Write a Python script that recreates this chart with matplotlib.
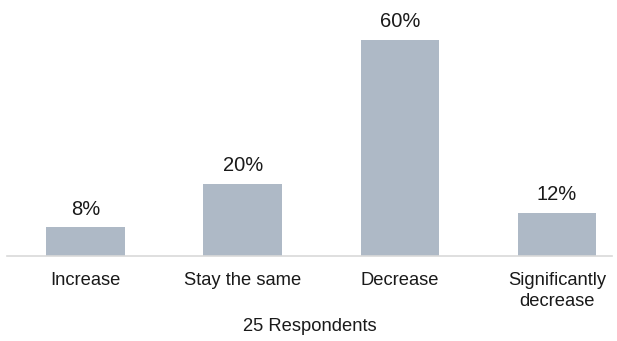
import matplotlib.pyplot as plt

plt.rcParams['font.family'] = ['Liberation Sans', 'DejaVu Sans']

categories = ["Increase", "Stay the same", "Decrease", "Significantly\ndecrease"]
values = [8, 20, 60, 12]
labels = ["8%", "20%", "60%", "12%"]

fig = plt.figure(figsize=(6.17, 3.41), dpi=100)
ax = fig.add_axes([7/617, 85/341, 605/617, 234/341])

x = range(len(categories))
bars = ax.bar(x, values, width=0.5, color="#AEB9C6")
for b, lab in zip(bars, labels):
    ax.text(b.get_x() + b.get_width()/2, b.get_height() + 2.4, lab,
            ha="center", va="bottom", fontsize=14.5, color="#1a1a1a")

ax.set_xlim(-0.5, 3.35)
ax.set_ylim(0, 65)
ax.set_xticks(list(x))
ax.set_xticklabels(categories, fontsize=13.2, color="#1a1a1a", linespacing=1.3)
ax.tick_params(axis="x", length=0, pad=11.5)
ax.set_yticks([])
for s in ["top", "right", "left"]:
    ax.spines[s].set_visible(False)
ax.spines["bottom"].set_color("#D9D9D9")
ax.spines["bottom"].set_linewidth(1.2)
ax.set_xlabel("25 Respondents", fontsize=13.2, color="#1a1a1a", labelpad=6)

fig.savefig("out.png", dpi=100)
